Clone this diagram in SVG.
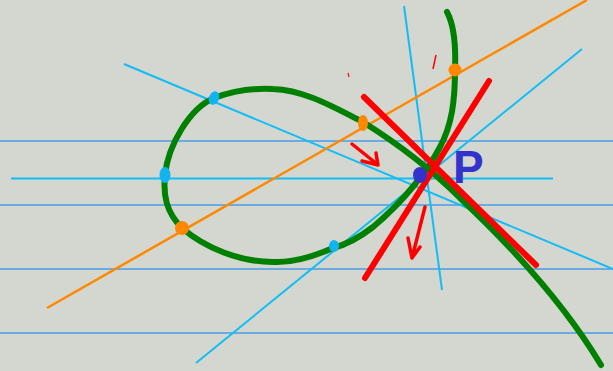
<svg xmlns="http://www.w3.org/2000/svg" width="613" height="371" viewBox="0 0 613 371">
<style>
.rule{stroke:#4a9de6;stroke-width:1.5}
.cyan{stroke:#12bdf5;stroke-width:2;fill:none}
.orange{stroke:#ff8800;stroke-width:2.5;fill:none}
.green{stroke:#008000;stroke-width:6;fill:none;stroke-linecap:round;stroke-linejoin:round}
.red{stroke:#ff0000;stroke-width:6;stroke-linecap:round;fill:none}
.redthin{stroke:#ff0000;stroke-width:3.5;stroke-linecap:round;stroke-linejoin:round;fill:none}
.cdot{fill:#12b4f0}
.odot{fill:#ff8800}
</style>
<rect x="0" y="0" width="613" height="371" fill="#d4d7d0"/>
<g id="rules">
<line class="rule" x1="0" y1="141" x2="613" y2="141"/>
<line class="rule" x1="0" y1="205" x2="613" y2="205"/>
<line class="rule" x1="0" y1="269" x2="613" y2="269"/>
<line class="rule" x1="0" y1="333" x2="613" y2="333"/>
</g>
<g id="cyan-lines">
<line class="cyan" x1="11" y1="178.5" x2="553" y2="178.5"/>
<line class="cyan" x1="124" y1="64" x2="613" y2="269"/>
<line class="cyan" x1="196" y1="363" x2="582" y2="49"/>
<line class="cyan" x1="404" y1="6" x2="442" y2="290"/>
</g>
<g id="orange-line">
<line class="orange" x1="47" y1="308" x2="587" y2="0"/>
</g>
<g id="curve">
<path class="green" d="M447,12 C454,25 456,45 455,70 C455,100 452,125 440,147 C428,170 405,200 373,227 C360,237 345,245 333,248 C310,258 290,263 273,262 C240,262 205,248 182,228 C166,212 163,195 165,175 C168,145 190,108 214,98 C235,90 255,88 273,89 C305,90 335,108 363,122 C395,142 430,168 460,198 C510,245 565,305 601,365"/>
</g>
<g id="red-lines">
<line class="red" x1="364" y1="97" x2="536" y2="265"/>
<line class="red" x1="489" y1="81" x2="365" y2="278"/>
</g>
<g id="arrows">
<path class="redthin" d="M352,144 L377,164 M362,161 L378,165 L376,153"/>
<path class="redthin" d="M425,207 L412,258 M408,238 L412,258 L420,247"/>
<path stroke="#ff0000" stroke-width="1.5" fill="none" d="M433,69 L436,55"/>
<path stroke="#ff0000" stroke-width="1.2" fill="none" d="M348,73 L349,77"/>
</g>
<g id="dots">
<ellipse class="cdot" cx="214" cy="98" rx="5" ry="7" transform="rotate(20 214 98)"/>
<ellipse class="cdot" cx="165" cy="175" rx="5.5" ry="8"/>
<ellipse class="cdot" cx="334" cy="246" rx="5" ry="6"/>
<circle class="odot" cx="182" cy="228" r="7"/>
<ellipse class="odot" cx="363" cy="123" rx="5" ry="8"/>
<circle class="odot" cx="455" cy="70" r="6.5"/>
</g>
<g id="point-P">
<ellipse cx="420" cy="175" rx="7" ry="8" fill="#3333cc"/>
<text x="453" y="183" font-family="Liberation Sans, sans-serif" font-size="46" font-weight="bold" fill="#3333cc">P</text>
</g>
</svg>
